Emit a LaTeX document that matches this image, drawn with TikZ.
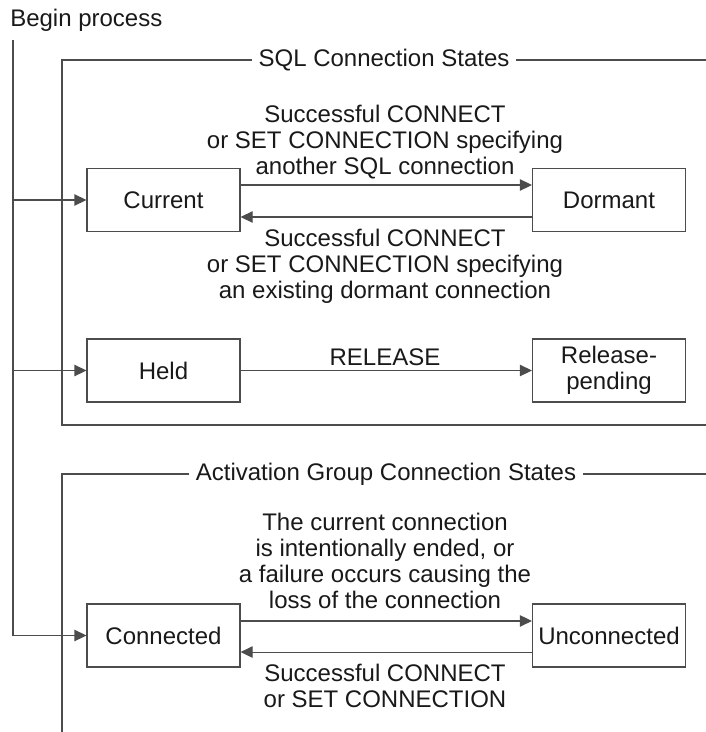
\documentclass[tikz,border=0pt]{standalone}
\usepackage{fontspec}
\setmainfont{Liberation Sans}
\usetikzlibrary{arrows.meta}
\begin{document}
\begin{tikzpicture}[x=0.75pt,y=-0.75pt,
  font=\fontsize{18}{19.5}\selectfont,
  state/.style={draw=black!70,line width=0.8pt,minimum width=114.75pt,minimum height=47.25pt,align=center,inner sep=0pt,text=black!90},
  lbl/.style={align=center,inner sep=0pt,text=black!90},
  frm/.style={draw=black!70,line width=0.8pt},
  arr/.style={frm,-{Triangle[length=9pt,width=8.5pt]}}]
\useasboundingbox (0,0) rectangle (706,732);
\node[lbl,anchor=west] (begin) at (10,20) {Begin process};
\coordinate (start) at (13,40);
\node[state] (cur) at (163.5,200) {Current};
\node[state] (dor) at (609,200) {Dormant};
\node[state] (held) at (163.5,370.5) {Held};
\node[state] (rel) at (609,370.5) {Release-\\pending};
\node[state] (conn) at (163.5,635.5) {Connected};
\node[state] (unc) at (609,635.5) {Unconnected};
\node[lbl,inner sep=5pt] (sql) at (384,60) {SQL Connection States};
\node[lbl,inner sep=5pt] (act) at (386,474) {Activation Group Connection States};
\draw[frm] (sql.west) -- (62,60) |- (706,425);
\draw[frm] (sql.east) -- (706,60);
\draw[frm] (act.west) -- (62,474) -- (62,732);
\draw[frm] (act.east) -- (706,474);
\draw[arr] (start) |- (conn.west);
\foreach \s in {cur,held}
\draw[arr] (start |- \s.west) -- (\s.west);
\draw[arr] ([yshift=11.25pt]cur.east) -- ([yshift=11.25pt]dor.west);
\draw[arr] ([yshift=-12.75pt]dor.west) -- ([yshift=-12.75pt]cur.east);
\draw[arr] (held.east) -- (held.east -| rel.west);
\draw[arr] ([yshift=10.9pt]conn.east) -- ([yshift=10.9pt]unc.west);
\draw[arr] ([yshift=-12.4pt]unc.west) -- ([yshift=-12.4pt]conn.east);
\node[lbl] (l1) at (385,142) {Successful CONNECT\\or SET CONNECTION specifying\\another SQL connection};
\node[lbl] (l2) at (385,266) {Successful CONNECT\\or SET CONNECTION specifying\\an existing dormant connection};
\node[lbl] (l3) at (385,357) {RELEASE};
\node[lbl] (l4) at (385,561) {The current connection\\is intentionally ended, or\\a failure occurs causing the\\loss of the connection};
\node[lbl] (l5) at (385,686) {Successful CONNECT\\or SET CONNECTION};
\end{tikzpicture}
\end{document}
